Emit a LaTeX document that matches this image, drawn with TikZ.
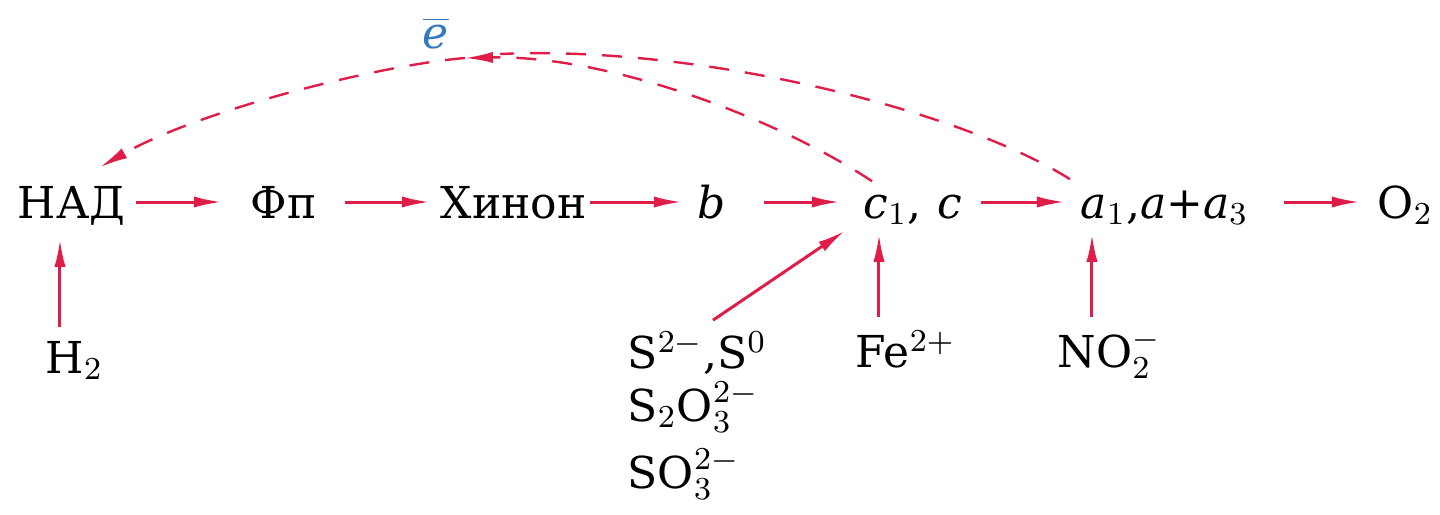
\documentclass[tikz,border=0pt]{standalone}
\usepackage{fontspec}
\setmainfont{DejaVu Serif}
\usetikzlibrary{arrows.meta}
\definecolor{arrred}{RGB}{222,30,72}
\definecolor{eblue}{RGB}{55,120,190}
\tikzset{
  lbl/.style={inner sep=0pt, text height=8pt, text depth=0pt, anchor=base west, font=\rmfamily\fontsize{11}{14}\selectfont},
  arr/.style={draw=arrred, line width=0.75pt, -{Latex[length=7pt,width=2.8pt]}},
  dasharr/.style={arr, line width=0.6pt, dash pattern=on 5pt off 4pt},
}
\begin{document}
\begin{tikzpicture}[x=0.25pt,y=0.25pt]
    \useasboundingbox (0,0) rectangle (1440,-515);
    % main chain
    \node[lbl] (nad) at (17,-218) {НАД};
    \node[lbl] (fp) at (250,-218) {Фп};
    \node[lbl] (xinon) at (440,-218) {Хинон};
    \node[lbl] (b) at (697,-218) {$\mathit{b}$};
    \node[lbl] (c1) at (863,-218) {$\mathit{c}_1$,};
    \node[lbl] (c) at (937,-218) {$\mathit{c}$};
    \node[lbl] (a1) at (1080,-218) {$\mathit{a}_1$,$\mathit{a}$+$\mathit{a}_3$};
    \node[lbl] (o2) at (1377,-218) {O$_2$};
    % donors
    \node[lbl] (h2) at (45,-373) {H$_2$};
    \node[lbl] (s1) at (627,-368) {S$^{2-}$,S$^0$};
    \node[lbl] (s2) at (627,-421) {S$_2$O$_3^{2-}$};
    \node[lbl] (s3) at (627,-488) {SO$_3^{2-}$};
    \node[lbl] (fe) at (855,-367) {Fe$^{2+}$};
    \node[lbl] (no2) at (1057,-367) {NO$_2^-$};
    \node[font=\rmfamily\fontsize{11}{14}\selectfont, text=eblue, inner sep=0pt] (e) at (436,-33) {$\overline{\mathit{e}}$};
    \coordinate (hub) at (465,-58);
    \coordinate (join) at (500,-54);

    \foreach \p/\q/\s/\t in {nad/fp/2.5pt/7pt, fp/xinon/7pt/2.5pt, xinon/b/0.75pt/3.75pt,
                             b/c1/9.25pt/5.75pt, c/a1/4.5pt/3.75pt, a1/o2/8.75pt/4.25pt}
      \draw[arr, shorten <=\s, shorten >=\t] (\p.east) -- (\q.west);

    \draw[arr, shorten <=3.25pt, shorten >=5pt] ([xshift=3.75pt]h2.north west) -- ([xshift=10.75pt]nad.south west);
    \draw[arr, shorten <=4.25pt, shorten >=3.75pt] ([xshift=6pt]fe.north west) -- ([xshift=4pt]c1.south west);
    \draw[arr, shorten <=4.25pt, shorten >=3.75pt] ([xshift=8.75pt]no2.north west) -- ([xshift=3pt]a1.south west);
    \draw[arr] ([xshift=21.5pt,yshift=3.75pt]s1.north west) -- ([xshift=-4.5pt,yshift=-3pt]c1.south west);

    \draw[dasharr] ([xshift=2.25pt,yshift=1pt]c1.north west) .. controls (780,-120) and (610,-55) .. (hub);
    \draw[dasharr,-] ([xshift=-2.5pt,yshift=1.5pt]a1.north west) .. controls (960,-110) and (700,-45) .. (join);
    \draw[dasharr] (hub) .. controls (380,-65) and (200,-110) .. ([xshift=20.75pt,yshift=4.5pt]nad.north west);
\end{tikzpicture}
\end{document}
